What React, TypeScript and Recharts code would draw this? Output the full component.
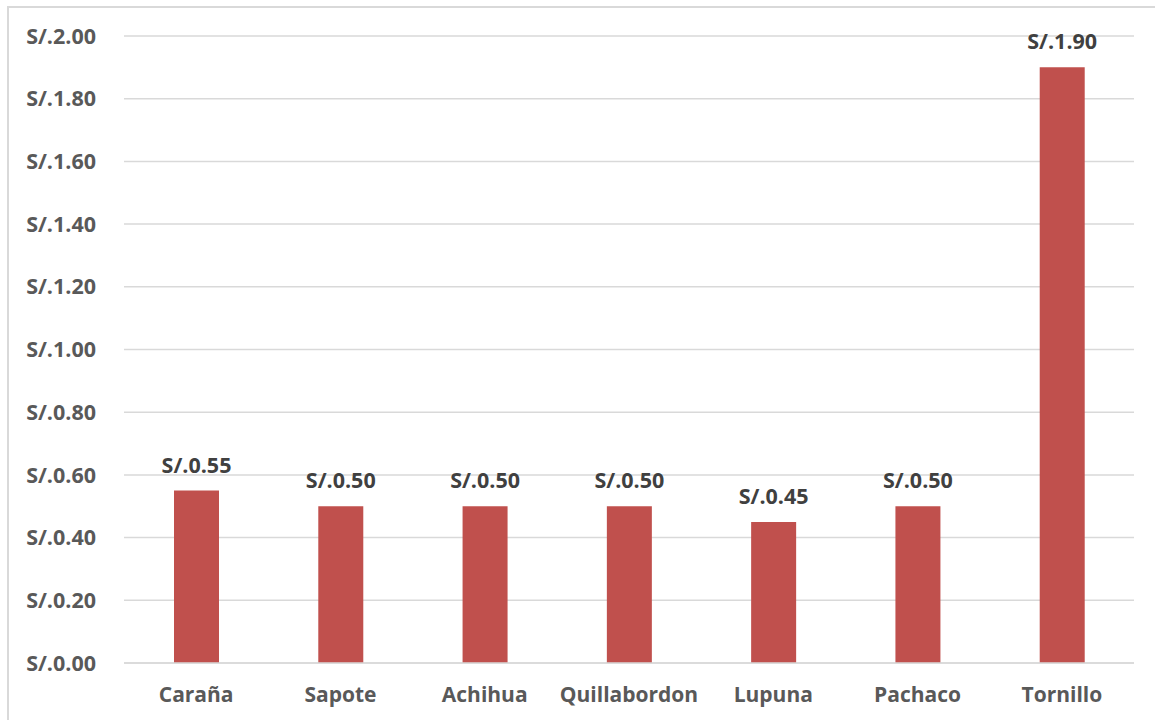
import React from 'react';
import { BarChart, Bar, XAxis, YAxis, CartesianGrid, LabelList } from 'recharts';

// wood species and price per unit (soles)
const species = ['Caraña', 'Sapote', 'Achihua', 'Quillabordon', 'Lupuna', 'Pachaco', 'Tornillo'];
const prices = [0.55, 0.5, 0.5, 0.5, 0.45, 0.5, 1.9];
const yTicks = [0, 0.2, 0.4, 0.6, 0.8, 1.0, 1.2, 1.4, 1.6, 1.8, 2.0];

const soles = (v: number) => `S/.${Number(v).toFixed(2)}`;

const FONT = '"Open Sans", "Liberation Sans", sans-serif';

export default function App() {
    const data = species.map((name, i) => ({ name, price: prices[i] }));

    return (
        <div style={{ position: 'absolute', left: 0, top: 0, width: 1155, height: 720, background: '#fff' }}>
            {/* chart frame, only top and left edges are inside the window */}
            <div
                style={{
                    position: 'absolute',
                    left: 7,
                    top: 6,
                    width: 1148,
                    height: 714,
                    borderTop: '2px solid #d9d9d9',
                    borderLeft: '2px solid #d9d9d9',
                    boxSizing: 'border-box',
                }}
            />
            <div style={{ position: 'absolute', left: 0, top: 0 }}>
                <BarChart
                    width={1155}
                    height={720}
                    data={data}
                    margin={{ top: 36, right: 21, left: 0, bottom: 0 }}
                    barSize={45}
                >
                    <CartesianGrid vertical={false} stroke="#d9d9d9" strokeWidth={1.5} />
                    <XAxis
                        dataKey="name"
                        height={57}
                        axisLine={{ stroke: '#d9d9d9', strokeWidth: 1.5 }}
                        tickLine={false}
                        tickSize={0}
                        tickMargin={24}
                        interval={0}
                        tick={{ fill: '#595959', fontSize: 21, fontWeight: 700, fontFamily: FONT }}
                    />
                    <YAxis
                        width={124}
                        domain={[0, 2]}
                        ticks={yTicks}
                        tickFormatter={soles}
                        axisLine={false}
                        tickLine={false}
                        tickSize={0}
                        tickMargin={28}
                        tick={{ fill: '#595959', fontSize: 21.5, fontWeight: 700, fontFamily: FONT }}
                    />
                    <Bar dataKey="price" fill="#c0504d" isAnimationActive={false}>
                        <LabelList
                            dataKey="price"
                            position="top"
                            offset={18}
                            formatter={soles}
                            style={{ fill: '#404040', fontSize: 21.5, fontWeight: 700, fontFamily: FONT }}
                        />
                    </Bar>
                </BarChart>
            </div>
        </div>
    );
}
